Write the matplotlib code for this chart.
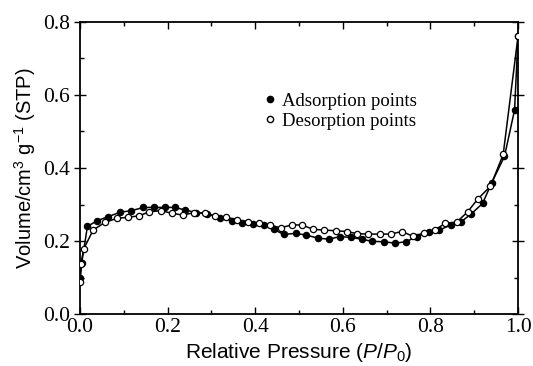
import numpy as np
import matplotlib
matplotlib.use('Agg')
import matplotlib.pyplot as plt
from matplotlib.lines import Line2D
from matplotlib.ticker import MultipleLocator

ads_x = [0.001, 0.004, 0.017, 0.040, 0.065, 0.092, 0.117, 0.145, 0.169, 0.193,
         0.217, 0.240, 0.265, 0.290, 0.320, 0.347, 0.370, 0.395, 0.420, 0.442,
         0.465, 0.492, 0.517, 0.543, 0.568, 0.593, 0.618, 0.643, 0.667, 0.694,
         0.719, 0.744, 0.769, 0.797, 0.820, 0.847, 0.870, 0.892, 0.919, 0.940,
         0.969, 0.992, 1.000]
ads_y = [0.100, 0.140, 0.240, 0.256, 0.267, 0.279, 0.283, 0.292, 0.292, 0.292,
         0.292, 0.285, 0.278, 0.275, 0.264, 0.256, 0.250, 0.247, 0.244, 0.232,
         0.218, 0.221, 0.216, 0.208, 0.205, 0.212, 0.210, 0.205, 0.199, 0.198,
         0.194, 0.198, 0.212, 0.225, 0.230, 0.244, 0.253, 0.273, 0.303, 0.360,
         0.432, 0.559, 0.762]

des_x = [0.000, 0.002, 0.009, 0.030, 0.057, 0.084, 0.109, 0.135, 0.158, 0.185,
         0.210, 0.235, 0.261, 0.285, 0.309, 0.334, 0.359, 0.383, 0.408, 0.433,
         0.458, 0.483, 0.507, 0.532, 0.558, 0.584, 0.609, 0.633, 0.658, 0.684,
         0.709, 0.735, 0.760, 0.786, 0.810, 0.833, 0.860, 0.885, 0.908, 0.937,
         0.966, 1.000]
des_y = [0.088, 0.137, 0.179, 0.230, 0.251, 0.262, 0.265, 0.269, 0.280, 0.283,
         0.276, 0.271, 0.278, 0.276, 0.268, 0.265, 0.258, 0.253, 0.248, 0.244,
         0.236, 0.244, 0.244, 0.232, 0.230, 0.228, 0.226, 0.220, 0.219, 0.219,
         0.219, 0.226, 0.213, 0.222, 0.230, 0.248, 0.252, 0.280, 0.315, 0.350,
         0.437, 0.762]

x_ticks = [0.0, 0.2, 0.4, 0.6, 0.8, 1.0]
y_ticks = [0.0, 0.2, 0.4, 0.6, 0.8]

plt.rcParams['mathtext.fontset'] = 'custom'
plt.rcParams['mathtext.rm'] = 'Liberation Sans'
plt.rcParams['mathtext.it'] = 'Liberation Sans:italic'

fig = plt.figure(figsize=(5.33, 3.66), dpi=100)
ax = fig.add_axes([0.150, 0.142, 0.822, 0.798])

ax.plot(des_x, des_y, color='black', lw=1.1, marker='o', ms=4.5,
        mfc='white', mec='black', mew=0.9, zorder=3)
ax.plot(ads_x, ads_y, color='black', lw=1.1, marker='o', ms=4.5,
        mfc='black', mec='black', mew=0.9, zorder=2)

ax.set_xlim(0, 1.0)
ax.set_ylim(0, 0.8)
ax.set_xticks(x_ticks)
ax.set_yticks(y_ticks)
ax.set_xticklabels([f'{v:.1f}' for v in x_ticks], family='Liberation Serif', fontsize=15.5)
ax.set_yticklabels([f'{v:.1f}' for v in y_ticks], family='Liberation Serif', fontsize=15.5)
ax.xaxis.set_minor_locator(MultipleLocator(0.1))
ax.yaxis.set_minor_locator(MultipleLocator(0.1))
ax.tick_params(which='both', top=True, right=True, direction='in', width=1)
ax.tick_params(which='major', length=5, pad=3)
ax.tick_params(which='minor', length=3)
ax.tick_params(axis='y', which='major', direction='inout', length=8)
for s in ax.spines.values():
    s.set_linewidth(1.3)

ax.set_xlabel('Relative Pressure ($\\it{P}$/$\\it{P}_{\\rm 0}$)',
              family='Liberation Sans', fontsize=15, labelpad=3)
ax.set_ylabel('Volume/cm$^{3}$ g$^{-1}$ (STP)',
              family='Liberation Sans', fontsize=14.5, labelpad=4)

handles = [Line2D([], [], ls='none', marker='o', ms=4.5, mfc='black', mec='black'),
           Line2D([], [], ls='none', marker='o', ms=4.5, mfc='white', mec='black')]
ax.legend(handles, ['Adsorption points', 'Desorption points'],
          loc='upper left', bbox_to_anchor=(0.40, 0.79), frameon=False,
          handlelength=0.6, handletextpad=0.35, labelspacing=0.15,
          borderpad=0, prop={'family': 'Liberation Serif', 'size': 13.5})

fig.savefig('out.png', dpi=100)
